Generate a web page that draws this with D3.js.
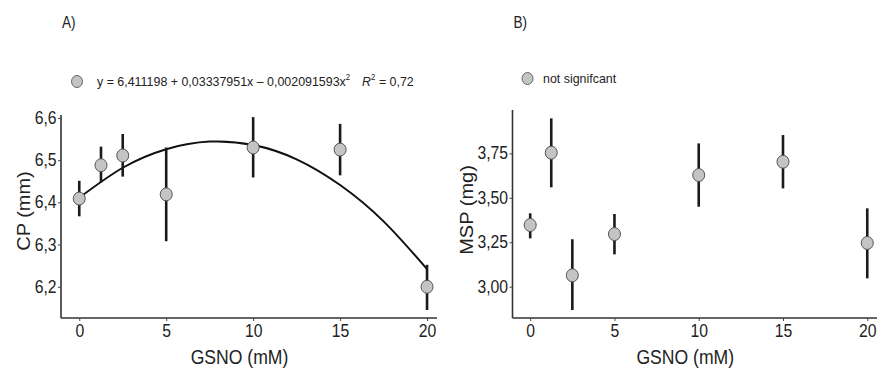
<!DOCTYPE html>
<html><head><meta charset="utf-8">
<script src="https://cdn.jsdelivr.net/npm/d3@7"></script>
<style>
body{margin:0;background:#fff;}
text{font-family:"Liberation Sans",Arial,sans-serif;fill:#222;}
</style></head><body>
<svg id="chart" width="877" height="372"></svg>
<script>
// ---- data ----
const gsno = [0, 1.25, 2.5, 5, 10, 15, 20];
const cpMean = [6.409, 6.488, 6.511, 6.419, 6.530, 6.525, 6.200];
const cpLow  = [6.367, 6.447, 6.461, 6.308, 6.459, 6.464, 6.145];
const cpHigh = [6.451, 6.532, 6.562, 6.530, 6.602, 6.586, 6.252];
const fitX = [0, 2.5, 5, 7.5, 10, 12.5, 15, 17.5, 20];
const fitY = [6.411, 6.482, 6.526, 6.544, 6.536, 6.502, 6.441, 6.355, 6.242];
const mspMean = [3.347, 3.754, 3.064, 3.296, 3.628, 3.703, 3.246];
const mspLow  = [3.272, 3.559, 2.869, 3.182, 3.450, 3.553, 3.047];
const mspHigh = [3.413, 3.947, 3.267, 3.409, 3.806, 3.853, 3.441];
const xTicks = [0, 5, 10, 15, 20];
const cpTicks = [6.2, 6.3, 6.4, 6.5, 6.6];
const mspTicks = [3.00, 3.25, 3.50, 3.75];
const legendA = "y = 6,411198 + 0,03337951x \u2013 0,002091593x";
const legendB = "not signifcant";

const svg = d3.select("#chart");
const comma = (d, n) => d.toFixed(n).replace(".", ",");

function ctext(parent, x, y, str, size, sx, anchor, rot) {
  const t = parent.append("text")
    .attr("transform", `translate(${x},${y})` + (rot ? " rotate(-90) scale(1," + sx + ")" : " scale(" + sx + ",1)"))
    .attr("font-size", size).attr("text-anchor", anchor || "start").text(str);
  return t;
}

function panel(o) {
  const g = svg.append("g");
  const x = d3.scaleLinear().domain([-1.05, 20.4]).range([o.left, o.right]);
  const y = d3.scaleLinear().domain(o.ydom).range([o.bottom, o.top]);
  const xa = g.append("g").attr("transform", `translate(0,${o.bottom})`)
    .call(d3.axisBottom(x).tickValues(xTicks).tickSize(3).tickPadding(4).tickFormat(d3.format("d")));
  const ya = g.append("g").attr("transform", `translate(${o.left},0)`)
    .call(d3.axisLeft(y).tickValues(o.ticks).tickSize(3).tickPadding(2).tickFormat(d => comma(d, o.dec)));
  [xa, ya].forEach(a => {
    a.select(".domain").attr("stroke", "#333").attr("stroke-width", 1.6);
    a.selectAll(".tick line").attr("stroke", "#444");
    a.selectAll("text").attr("font-size", 17.5).attr("fill", "#222")
      .attr("transform", "scale(0.9,1)")
      .style("font-family", "'Liberation Sans',Arial,sans-serif");
  });
  ya.select(".domain").attr("d", `M0,${o.bottom}V${o.top}`);
  xa.select(".domain").attr("d", `M${o.left},0H${o.right + 3}`);
  ctext(g, (o.left + o.right) / 2 - 8, 364, "GSNO (mM)", 20, 0.88, "middle");
  ctext(g, o.left - o.ylabOff, o.ylabY, o.ylabel, 20, 0.88, "middle", true);
  ctext(g, o.left + 1, 28, o.tag, 16, 0.85, "start");
  return {g, x, y};
}

function points(p, mean, lo, hi) {
  const data = gsno.map((d, i) => ({x: d, m: mean[i], l: lo[i], h: hi[i]}));
  p.g.selectAll("line.err").data(data).join("line").attr("class", "err")
    .attr("x1", d => p.x(d.x)).attr("x2", d => p.x(d.x))
    .attr("y1", d => p.y(d.l)).attr("y2", d => p.y(d.h))
    .attr("stroke", "#1a1a1a").attr("stroke-width", 2.6);
  p.g.selectAll("ellipse.pt").data(data).join("ellipse").attr("class", "pt")
    .attr("cx", d => p.x(d.x)).attr("cy", d => p.y(d.m))
    .attr("rx", 6).attr("ry", 6.5)
    .attr("fill", "#c4c4c4").attr("stroke", "#555").attr("stroke-width", 1);
}

// Panel A
const A = panel({left: 61, right: 434, top: 115, bottom: 318, ydom: [6.126, 6.607],
  ticks: cpTicks, dec: 1, ylabel: "CP (mm)", ylabY: 211, ylabOff: 31, tag: "A)"});
A.g.append("path").datum(fitX.map((d, i) => [d, fitY[i]]))
  .attr("d", d3.line().x(d => A.x(d[0])).y(d => A.y(d[1])).curve(d3.curveNatural))
  .attr("fill", "none").attr("stroke", "#111").attr("stroke-width", 2);
points(A, cpMean, cpLow, cpHigh);

// Panel B
const B = panel({left: 512.5, right: 874, top: 110, bottom: 318, ydom: [2.824, 3.994],
  ticks: mspTicks, dec: 2, ylabel: "MSP (mg)", ylabY: 210, ylabOff: 40, tag: "B)"});
points(B, mspMean, mspLow, mspHigh);

// Legends
function legendDot(cx, cy) {
  svg.append("ellipse").attr("cx", cx).attr("cy", cy).attr("rx", 5.5).attr("ry", 6)
    .attr("fill", "#c4c4c4").attr("stroke", "#666").attr("stroke-width", 1);
}
legendDot(77, 81.5);
const lt = svg.append("text").attr("transform", "translate(97,86) scale(0.92,1)").attr("font-size", 13.5);
lt.append("tspan").text(legendA);
lt.append("tspan").attr("dy", -6).attr("font-size", 8.5).text("2");
lt.append("tspan").attr("dy", 6).attr("dx", 13).attr("font-style", "italic").text("R");
lt.append("tspan").attr("dy", -6).attr("font-size", 8.5).text("2");
lt.append("tspan").attr("dy", 6).text(" = 0,72");
legendDot(527.5, 78.5);
svg.append("text").attr("transform", "translate(543,83) scale(0.92,1)").attr("font-size", 13.5).text(legendB);
</script>
</body></html>
